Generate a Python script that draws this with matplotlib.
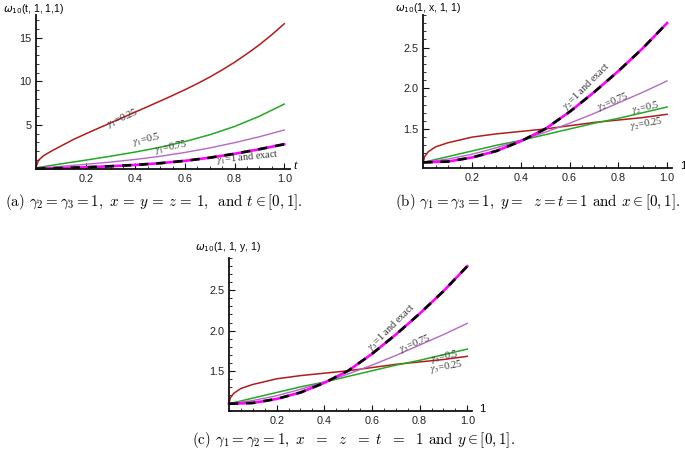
import matplotlib
matplotlib.use("Agg")
import matplotlib.pyplot as plt
import matplotlib.ticker as mticker

# ---- data ----
# panel (a): omega_10(t, 1, 1, 1), gamma_1 varies
T_RED = [0, 0.01, 0.03, 0.06, 0.1, 0.15, 0.2, 0.25, 0.3, 0.35, 0.4, 0.45, 0.5,
         0.55, 0.6, 0.65, 0.7, 0.75, 0.8, 0.85, 0.9, 0.95, 1.0]
A_G025 = [0.3, 1.0, 1.5, 2.0, 2.6, 3.35, 4.0, 4.63, 5.25, 5.87, 6.5, 7.12, 7.75,
          8.39, 9.05, 9.75, 10.5, 11.32, 12.2, 13.17, 14.2, 15.35, 16.6]
T = [0, 0.1, 0.2, 0.3, 0.4, 0.5, 0.6, 0.7, 0.8, 0.9, 1.0]
A_G05 = [0.1, 0.55, 0.98, 1.43, 1.91, 2.46, 3.11, 3.89, 4.84, 6.01, 7.4]
A_G075 = [0.0, 0.26, 0.5, 0.76, 1.06, 1.42, 1.86, 2.38, 2.98, 3.66, 4.43]
A_EXACT = [0.0, 0.07, 0.16, 0.28, 0.43, 0.63, 0.90, 1.26, 1.71, 2.23, 2.80]

# panels (b) and (c): omega_10(1, x, 1, 1) and omega_10(1, 1, y, 1)
X_RED = [0, 0.005, 0.02, 0.05, 0.1, 0.2, 0.3, 0.4, 0.5, 0.6, 0.7, 0.8, 0.9, 1.0]
B_G025 = [1.09, 1.16, 1.22, 1.28, 1.33, 1.40, 1.44, 1.47, 1.50, 1.54, 1.58, 1.61, 1.64, 1.68]
X = [0, 0.1, 0.2, 0.3, 0.4, 0.5, 0.6, 0.7, 0.8, 0.9, 1.0]
B_G05 = [1.09, 1.16, 1.23, 1.30, 1.36, 1.43, 1.50, 1.57, 1.63, 1.70, 1.77]
B_G075 = [1.09, 1.13, 1.19, 1.27, 1.36, 1.46, 1.57, 1.69, 1.82, 1.95, 2.09]
B_EXACT = [1.09, 1.10, 1.15, 1.23, 1.35, 1.50, 1.71, 1.95, 2.21, 2.49, 2.80]

RED = "#b31b1b"
GREEN = "#22a822"
PURPLE = "#b468c6"
MAGENTA = "#ff00ff"
LABEL_COLOR = "#333333"

plt.rcParams["font.family"] = "Liberation Sans"


def style_axes(ax, xlim, ylim, ymajor, yminor):
    ax.set_xlim(*xlim)
    ax.set_ylim(*ylim)
    ax.patch.set_alpha(0)
    ax.spines[["top", "right"]].set_visible(False)
    for s in ("left", "bottom"):
        ax.spines[s].set_linewidth(1.3)
        ax.spines[s].set_color("#111111")
    ax.xaxis.set_major_locator(mticker.FixedLocator([0.2, 0.4, 0.6, 0.8, 1.0]))
    ax.xaxis.set_minor_locator(mticker.MultipleLocator(0.05))
    ax.xaxis.set_major_formatter(mticker.FormatStrFormatter("%.1f"))
    ax.yaxis.set_major_locator(mticker.FixedLocator(ymajor))
    ax.yaxis.set_minor_locator(mticker.MultipleLocator(yminor))
    ax.tick_params(which="both", direction="in", color="#111111", labelsize=7.8,
                   labelcolor="#222222", pad=3.5)
    ax.tick_params(which="major", length=4, width=0.8)
    ax.tick_params(which="minor", length=2, width=0.6)


def draw_curves(ax, xr, red, xs, green, purple, exact):
    ax.plot(xr, red, color=RED, lw=1.1, clip_on=False)
    ax.plot(xs, green, color=GREEN, lw=1.1, clip_on=False)
    ax.plot(xs, purple, color=PURPLE, lw=1.0, clip_on=False)
    ax.plot(xs, exact, color=MAGENTA, lw=1.9, clip_on=False)
    ax.plot(xs, exact, color="black", lw=1.9, dashes=(3.5, 3), clip_on=False)


def curve_label(ax, x, y, txt, rot, size=7.4):
    ax.text(x, y, txt, rotation=rot, ha="center", va="center", fontsize=size,
            color=LABEL_COLOR, family="Liberation Serif", math_fontfamily="stix",
            rotation_mode="anchor")


fig = plt.figure(figsize=(6.85, 4.51), dpi=100)

# (a)
ax_a = fig.add_axes([0.053, 0.626, 0.3707, 0.3407])
style_axes(ax_a, (0, 1.024), (0, 17.6), [5, 10, 15], 1)
draw_curves(ax_a, T_RED, A_G025, T, A_G05, A_G075, A_EXACT)
curve_label(ax_a, 0.35, 5.8, r"$\gamma_1$=0.25", 24)
curve_label(ax_a, 0.445, 3.35, r"$\gamma_1$=0.5", 13)
curve_label(ax_a, 0.545, 2.45, r"$\gamma_1$=0.75", 12)
curve_label(ax_a, 0.85, 1.35, r"$\gamma_1$=1 and exact", 6)

# (b)
ax_b = fig.add_axes([0.618, 0.6268, 0.3629, 0.340])
style_axes(ax_b, (0, 1.02), (1.017, 2.9), [1.5, 2.0, 2.5], 0.1)
draw_curves(ax_b, X_RED, B_G025, X, B_G05, B_G075, B_EXACT)
curve_label(ax_b, 0.67, 2.03, r"$\gamma_2$=1 and exact", 45)
curve_label(ax_b, 0.78, 1.84, r"$\gamma_2$=0.75", 22)
curve_label(ax_b, 0.91, 1.76, r"$\gamma_2$=0.5", 12)
curve_label(ax_b, 0.917, 1.57, r"$\gamma_2$=0.25", 10)

# (c) -- same curves as (b)
ax_c = fig.add_axes([0.3343, 0.0887, 0.3548, 0.3388])
style_axes(ax_c, (0, 1.02), (1.0, 2.9), [1.5, 2.0, 2.5], 0.1)
draw_curves(ax_c, X_RED, B_G025, X, B_G05, B_G075, B_EXACT)
curve_label(ax_c, 0.683, 2.04, r"$\gamma_3$=1 and exact", 45)
curve_label(ax_c, 0.78, 1.84, r"$\gamma_3$=0.75", 22)
curve_label(ax_c, 0.906, 1.68, r"$\gamma_3$=0.5", 12)
curve_label(ax_c, 0.913, 1.545, r"$\gamma_3$=0.25", 10)


# axis titles, in pixel positions of the reference
def fig_text(px, py, txt, **kw):
    fig.text(px / 685, 1 - py / 451, txt, **kw)


fig_text(3, 9, r"$\omega_{10}$(t, 1, 1,1)", fontsize=7.5, va="center", ha="left")
fig_text(395, 8, r"$\omega_{10}$(1, x, 1, 1)", fontsize=7.5, va="center", ha="left")
fig_text(195, 247, r"$\omega_{10}$(1, 1, y, 1)", fontsize=7.5, va="center", ha="left")
fig_text(293, 166, "t", fontsize=9, style="italic", family="Liberation Serif", va="center")
fig_text(680, 166, "1", fontsize=8, va="center")
fig_text(479, 409, "1", fontsize=8, va="center")

cap = dict(family="cmr10", math_fontfamily="cm", ha="center", va="center")
fig_text(154, 202, r"(a) $\gamma_2 = \gamma_3 = 1,\ x\,=\,y\,=\,z\,=\,1,\,$ and $t \in [0, 1]$.",
         fontsize=10.8, **cap)
fig_text(538, 202, r"(b) $\gamma_1 = \gamma_3 = 1,\ y =\ \ z = t = 1$ and $x \in [0, 1]$.",
         fontsize=10.8, **cap)
fig_text(353, 440, r"(c) $\gamma_1 = \gamma_2 = 1,\ x\ \ =\ \ z\ \ =\ t\ \ =\ \ 1$ and $y \in [0, 1]$.",
         fontsize=10.8, **cap)

fig.savefig("out.png", dpi=100, facecolor="white")
